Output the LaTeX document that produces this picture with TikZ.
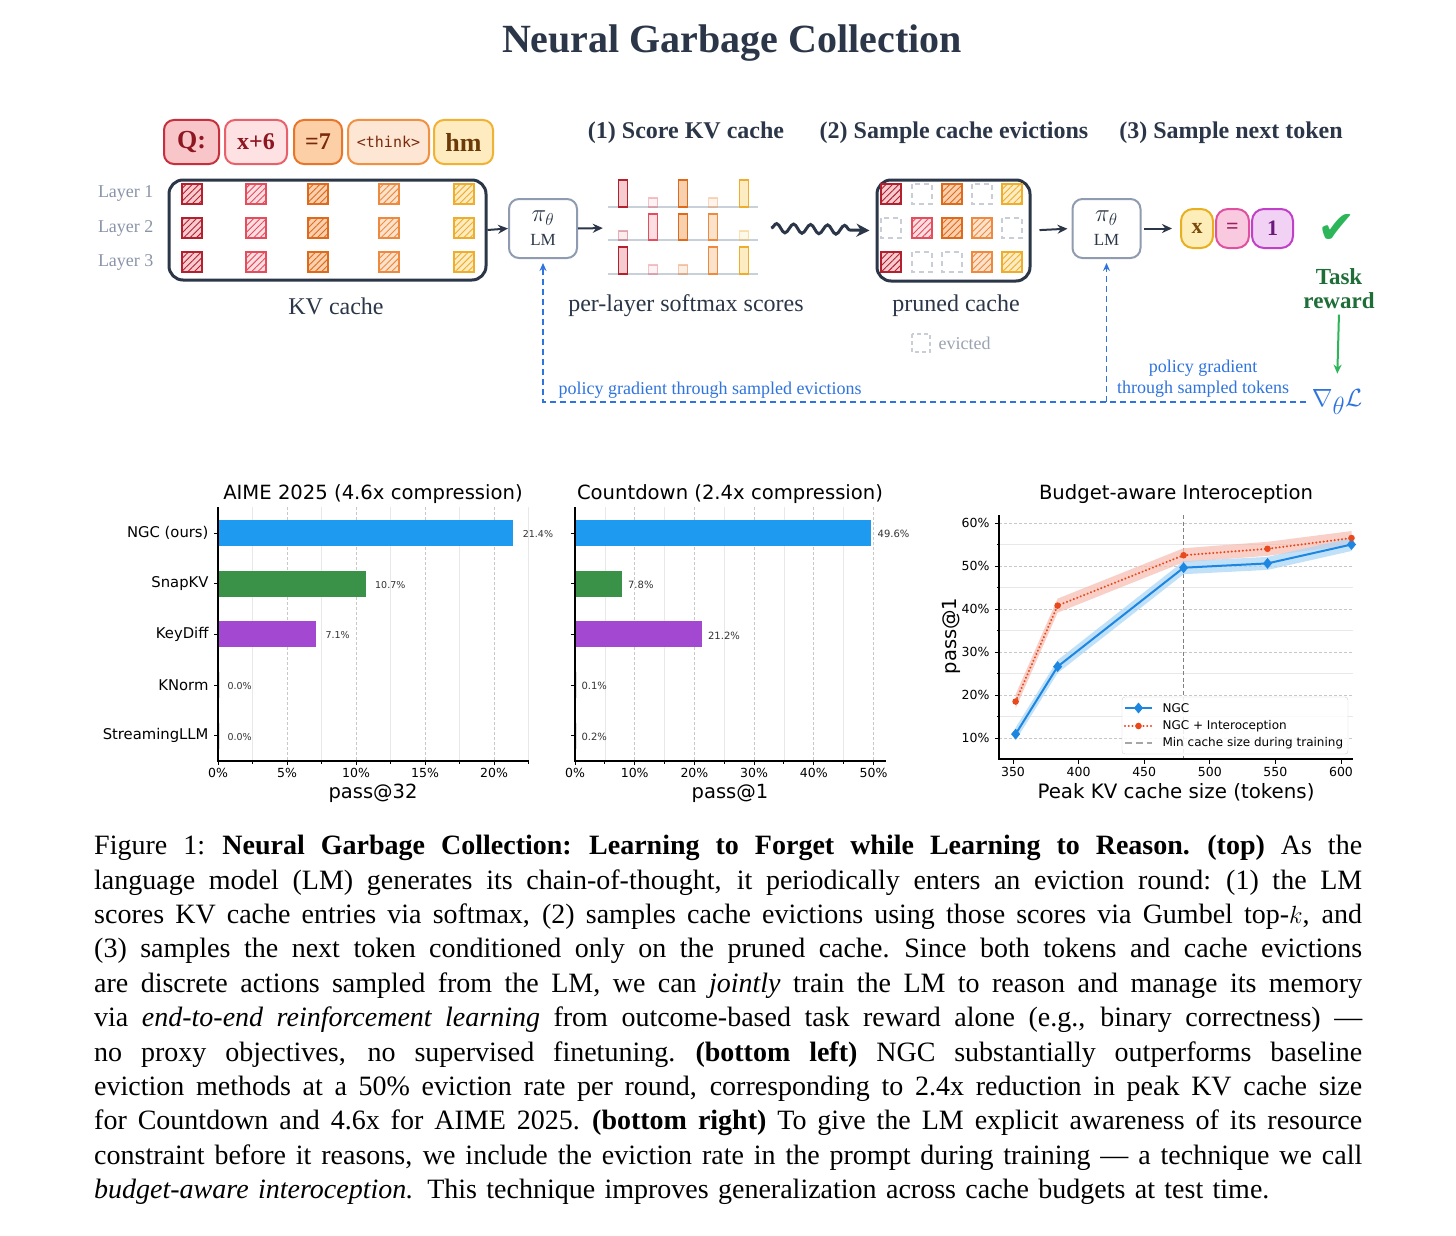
\documentclass[tikz,border=0pt]{standalone}
\usepackage{fontspec}
\setmainfont{Liberation Serif}
\newfontfamily\chartfont{DejaVu Sans}
\newfontfamily\tokmono{DejaVu Sans Mono}
\newfontfamily\symfont{DejaVu Sans}
\usetikzlibrary{arrows.meta,decorations.pathmorphing,patterns.meta,calc}
\newcommand\cfs[1]{\chartfont\fontsize{#1}{#1}\selectfont}
\newcommand\sfz[1]{\fontsize{#1}{#1}\selectfont}
\newcommand\capline[1]{\hbox to 1268pt{\spaceskip=0.25em plus 1.5em minus 0.06em\xspaceskip=0.3em plus 1.5em minus 0.06em #1}}
\definecolor{navy}{HTML}{2B3648}
\definecolor{lmgray}{HTML}{8E9BB0}
\definecolor{laygray}{HTML}{8A94A8}
\definecolor{cA}{HTML}{B3202E}\definecolor{fA}{HTML}{F6CBD0}
\definecolor{cB}{HTML}{E54C5C}\definecolor{fB}{HTML}{FCDDE1}
\definecolor{cC}{HTML}{E06A1C}\definecolor{fC}{HTML}{F9D0AE}
\definecolor{cD}{HTML}{EE8A40}\definecolor{fD}{HTML}{FDE2CB}
\definecolor{cE}{HTML}{EEAE2C}\definecolor{fE}{HTML}{FDEBC2}
\definecolor{tQb}{HTML}{C62F3B}\definecolor{tQf}{HTML}{F8C5C9}\definecolor{tQt}{HTML}{8E1620}
\definecolor{tXb}{HTML}{E8606A}\definecolor{tXf}{HTML}{FDE1E3}
\definecolor{tEb}{HTML}{E8762A}\definecolor{tEf}{HTML}{FCCFA6}\definecolor{tEt}{HTML}{7A2A0C}
\definecolor{tTb}{HTML}{F09040}\definecolor{tTf}{HTML}{FDE6D4}
\definecolor{tHb}{HTML}{F0B232}\definecolor{tHf}{HTML}{FEEBC0}\definecolor{tHt}{HTML}{6B3A08}
\definecolor{oXb}{HTML}{E8B020}\definecolor{oXf}{HTML}{FDEDB8}\definecolor{oXt}{HTML}{7A4A0A}
\definecolor{oEb}{HTML}{E050A0}\definecolor{oEf}{HTML}{F9CADF}\definecolor{oEt}{HTML}{9A2060}
\definecolor{oOb}{HTML}{C040C8}\definecolor{oOf}{HTML}{F1D2F5}\definecolor{oOt}{HTML}{6A1A7A}
\definecolor{pgblue}{HTML}{2F74DE}
\definecolor{tgreen}{HTML}{1F6E38}
\definecolor{agreen}{HTML}{2DB55A}
\definecolor{evgray}{HTML}{C9CED6}
\definecolor{evtext}{HTML}{9AA3B0}
\definecolor{basec}{HTML}{C8D0DA}
\definecolor{barblue}{HTML}{1E9BF0}
\definecolor{bargreen}{HTML}{3A9148}
\definecolor{barpurple}{HTML}{A349D1}
\definecolor{gridc}{HTML}{C8C8C8}
\definecolor{gridm}{HTML}{E8E8E8}
\definecolor{vlab}{HTML}{333333}
\definecolor{nblue}{HTML}{1C86E0}
\definecolor{nred}{HTML}{E84A1E}
\definecolor{bandb}{HTML}{A8D5F7}
\definecolor{bandr}{HTML}{F7BDB0}
\newcommand\hsq[3]{%
  \path[fill=f#3] (#1-10,#2-10) rectangle (#1+10,#2+10);
  \path[pattern={Lines[angle=45,distance=4.5pt,line width=0.9pt]}, pattern color=c#3] (#1-10,#2-10) rectangle (#1+10,#2+10);
  \draw[c#3, line width=1.6pt] (#1-10,#2-10) rectangle (#1+10,#2+10);}
\newcommand\evsq[2]{\draw[evgray, line width=1.5pt, dash pattern=on 5pt off 4pt] (#1-10,#2-10) rectangle (#1+10,#2+10);}
\newcommand\sbar[5]{\draw[draw=c#4, fill=f#4, line width=1.5pt, opacity=#5] (#1-4.5,#2) rectangle (#1+4.5,#2-#3);}
\newcommand\dmk[3]{\fill[#3] (#1,#2-5.5) -- (#1+4.5,#2) -- (#1,#2+5.5) -- (#1-4.5,#2) -- cycle;}
\begin{document}
\begin{tikzpicture}[x=1pt,y=-1pt,
  tok/.style={rounded corners=10pt, line width=2pt, inner sep=0pt, minimum height=44pt},
  otok/.style={rounded corners=12pt, line width=2pt, inner sep=0pt, minimum height=39pt, font={\bfseries\sfz{22}}},
  lmbox/.style={draw=lmgray, line width=2pt, rounded corners=10pt, fill=white, minimum width=68pt, minimum height=59pt, inner sep=0pt, align=center, text=navy, font={\fontsize{17}{24}\selectfont}},
  arr/.style={navy, line width=2pt, -{Stealth[length=10pt,width=9pt]}},
  wave/.style={navy, line width=3pt, decorate, decoration={snake, amplitude=4.5pt, segment length=17pt, post length=14pt}, -{Stealth[length=13pt,width=13pt]}},
  pgline/.style={pgblue, line width=1.6pt, dash pattern=on 6pt off 4pt},
  lbl/.style={font={\sfz{24}}, text=navy},
  hdr/.style={font={\bfseries\sfz{24}}, text=navy},
  gmaj/.style={draw=gridc, line width=0.8pt, dash pattern=on 3pt off 2pt},
  gmin/.style={draw=gridm, line width=0.7pt},
  spine/.style={black, line width=1.4pt},
  tick/.style={black, line width=1pt}]
\useasboundingbox[fill=white] (0,0) rectangle (1456,1236);

% ---------- title ----------
\node[font={\bfseries\sfz{40}}, text=navy] (title) at (732,43) {Neural Garbage Collection};

% ---------- headers ----------
\node[hdr] (h1) at (686,133) {(1) Score KV cache};
\node[hdr] (h2) at (954,133) {(2) Sample cache evictions};
\node[hdr] (h3) at (1231,133) {(3) Sample next token};

% ---------- input tokens ----------
\node[tok, draw=tQb, fill=tQf, text=tQt, minimum width=55pt, font={\bfseries\sfz{26}}] (tq) at (191.5,142) {Q:};
\node[tok, draw=tXb, fill=tXf, text=tQt, minimum width=62pt, font={\bfseries\sfz{24}}] (tx) at (256,142) {x+6};
\node[tok, draw=tEb, fill=tEf, text=tEt, minimum width=48pt, font={\bfseries\sfz{24}}] (te) at (318,142) {=7};
\node[tok, draw=tTb, fill=tTf, text=tEt, minimum width=81pt, font={\tokmono\sfz{15}}] (tthink) at (388.5,142) {<think>};
\node[tok, draw=tHb, fill=tHf, text=tHt, minimum width=59pt, font={\bfseries\sfz{26}}] (th) at (463.5,142) {hm};

% ---------- KV cache ----------
\foreach \r/\yy in {1/194,2/228,3/262}
  \node[anchor=east, font={\sfz{18}}, text=laygray] (lay\r) at (157,\yy) {Layer \r};
\node[draw=navy, line width=3pt, rounded corners=14pt, minimum width=317pt, minimum height=100pt, inner sep=0pt] (kv) at (327.5,230) {};
\foreach \cx/\cl in {192/A,256/B,318/C,389/D,464/E}
  \foreach \yy in {194,228,262} {\hsq{\cx}{\yy}{\cl}}
\node[lbl] (kvl) at (336,306) {KV cache};

% ---------- LM 1 ----------
\node[lmbox] (lm1) at (543,228.5) {{\sfz{27}$\pi_\theta$}\\LM};

% ---------- scores ----------
\node[minimum width=150pt, minimum height=100pt, inner sep=0pt] (scores) at (683,228) {};
\foreach \yy in {207,240,274} \draw[basec, line width=1.5pt] (608,\yy) -- (758,\yy);
\sbar{623}{207}{27}{A}{1}\sbar{653}{207}{9}{B}{0.35}\sbar{683}{207}{27}{C}{1}\sbar{713}{207}{9}{D}{0.35}\sbar{744}{207}{27}{E}{1}
\sbar{623}{240}{9}{A}{0.35}\sbar{653}{240}{26}{B}{1}\sbar{683}{240}{26}{C}{1}\sbar{713}{240}{26}{D}{1}\sbar{744}{240}{9}{E}{0.35}
\sbar{623}{274}{27}{A}{1}\sbar{653}{274}{9}{B}{0.35}\sbar{683}{274}{9}{C}{0.35}\sbar{713}{274}{27}{D}{1}\sbar{744}{274}{27}{E}{1}
\node[lbl] (scl) at (686,306) {per-layer softmax scores};

% ---------- pruned cache ----------
\node[draw=navy, line width=3pt, rounded corners=14pt, minimum width=153pt, minimum height=101pt, inner sep=0pt] (pruned) at (953.5,230.5) {};
\hsq{891}{194}{A}\evsq{922}{194}\hsq{952}{194}{C}\evsq{982}{194}\hsq{1012}{194}{E}
\evsq{891}{228}\hsq{922}{228}{B}\hsq{952}{228}{C}\hsq{982}{228}{D}\evsq{1012}{228}
\hsq{891}{262}{A}\evsq{922}{262}\evsq{952}{262}\hsq{982}{262}{D}\hsq{1012}{262}{E}
\node[lbl] (prl) at (956,306) {pruned cache};
\draw[evgray, line width=1.3pt, dash pattern=on 4pt off 3pt] (912,334) rectangle (930,352);
\node[anchor=west, text=evtext, font={\sfz{18}}] (evl) at (935,343) {evicted};

% ---------- LM 2 and outputs ----------
\node[lmbox] (lm2) at (1106.5,228.5) {{\sfz{27}$\pi_\theta$}\\LM};
\node[otok, draw=oXb, fill=oXf, text=oXt, minimum width=32pt] (ox) at (1197,228.5) {x};
\node[otok, draw=oEb, fill=oEf, text=oEt, minimum width=33pt] (oeq) at (1232.5,228.5) {=};
\node[otok, draw=oOb, fill=oOf, text=oOt, minimum width=41pt] (oone) at (1272.5,228.5) {1};
\node[text=agreen, font={\symfont\sfz{46}}] (chk) at (1337,229) {✔};
\node[text=tgreen, align=center, font={\bfseries\fontsize{23}{24}\selectfont}] (tr) at (1339,289) {Task\\reward};
\node[text=pgblue, font={\sfz{34}}] (nab) at (1337,402) {$\nabla_{\theta}\mathcal{L}$};

% ---------- connectors ----------
\draw[arr] (kv.east) -- (lm1.west);
\draw[arr, shorten >=5pt] (lm1.east) -- (scores.west);
\draw[wave] ([xshift=13pt]scores.east) -- ([xshift=-6pt]pruned.west);
\draw[arr, shorten <=8pt, shorten >=4pt] (pruned.east) -- (lm2.west);
\draw[arr, shorten <=2pt, shorten >=8pt] (lm2.east) -- (ox.west);
\draw[agreen, line width=2pt, -{Stealth[length=9pt,width=8pt]}, shorten <=2pt, shorten >=12pt] (tr.south) -- (nab.north);
\draw[pgline, -{Stealth[length=8pt,width=7pt]}] ([xshift=-2pt]nab.west) -| ([yshift=-4pt]lm1.south);
\draw[pgline, -{Stealth[length=8pt,width=7pt]}] (lm2.south |- nab.west) -- ([yshift=-4pt]lm2.south);
\node[anchor=west, text=pgblue, font={\sfz{18}}] (pgl1) at (555,390) {policy gradient through sampled evictions};
\node[align=center, text=pgblue, font={\fontsize{18}{21}\selectfont}] (pgl2) at (1203,379) {policy gradient\\through sampled tokens};

% ---------- chart 1 : AIME ----------
\foreach \v in {2.5,7.5,12.5,17.5,22.5} \draw[gmin] ({218+13.8*\v},507) -- ({218+13.8*\v},761);
\foreach \v in {5,10,15,20} \draw[gmaj] ({218+13.8*\v},507) -- ({218+13.8*\v},761);
\foreach \v/\yc/\col in {21.4/533/barblue,10.7/583.7/bargreen,7.1/634.4/barpurple} {
  \fill[\col] (218,\yc-13) rectangle ({218+13.8*\v},\yc+13);
  \node[anchor=west, text=vlab, font={\cfs{9.5}}] at ({218+13.8*\v+6},\yc+1) {\v\%};}
\foreach \yc in {685.1,735.8} {
  \fill[gray!25] (217,\yc-13) rectangle (219.5,\yc+13);
  \node[anchor=west, text=vlab, font={\cfs{9.5}}] at (224,\yc+1) {0.0\%};}
\draw[spine] (218,507) -- (218,761) -- (529,761);
\foreach \v in {0,5,10,15,20} {\draw[tick] ({218+13.8*\v},761) -- ++(0,4);
  \node[font={\cfs{12.5}}] at ({218+13.8*\v},773) {\v\%};}
\foreach \v in {2.5,7.5,12.5,17.5,22.5} \draw[tick] ({218+13.8*\v},761) -- ++(0,2.5);
\foreach \yc/\nm in {533/NGC (ours),583.7/SnapKV,634.4/KeyDiff,685.1/KNorm,735.8/StreamingLLM} {
  \draw[tick] (218,\yc) -- ++(-4,0);
  \node[anchor=east, font={\cfs{14.8}}] at (212,\yc) {\nm};}
\node[font={\cfs{19.6}}] (t1) at (373,494) {AIME 2025 (4.6x compression)};
\node[font={\cfs{19.5}}] (xl1) at (373,793) {pass@32};

% ---------- chart 2 : Countdown ----------
\foreach \v in {5,15,25,35,45} \draw[gmin] ({575+5.97*\v},507) -- ({575+5.97*\v},761);
\foreach \v in {10,20,30,40,50} \draw[gmaj] ({575+5.97*\v},507) -- ({575+5.97*\v},761);
\foreach \v/\yc/\col in {49.6/533/barblue,7.8/583.7/bargreen,21.2/634.4/barpurple} {
  \fill[\col] (575,\yc-13) rectangle ({575+5.97*\v},\yc+13);
  \node[anchor=west, text=vlab, font={\cfs{10}}] at ({575+5.97*\v+3},\yc+1) {\v\%};}
\foreach \v/\yc in {0.1/685.1,0.2/735.8} {
  \fill[gray!25] (574.5,\yc-13) rectangle (577,\yc+13);
  \node[anchor=west, text=vlab, font={\cfs{10}}] at (578,\yc+1) {\v\%};}
\draw[spine] (575,507) -- (575,761) -- (886,761);
\foreach \v in {0,10,20,30,40,50} {\draw[tick] ({575+5.97*\v},761) -- ++(0,4);
  \node[font={\cfs{12.5}}] at ({575+5.97*\v},773) {\v\%};}
\foreach \v in {5,15,25,35,45} \draw[tick] ({575+5.97*\v},761) -- ++(0,2.5);
\foreach \yc in {533,583.7,634.4,685.1,735.8} \draw[tick] (575,\yc) -- ++(-4,0);
\node[font={\cfs{19.6}}] (t2) at (730,494) {Countdown (2.4x compression)};
\node[font={\cfs{19.5}}] (xl2) at (730,793) {pass@1};

% ---------- chart 3 : interoception ----------
\foreach \p in {15,25,35,45,55} \draw[gmin] (999,{781-4.3*\p}) -- (1353,{781-4.3*\p});
\foreach \p in {10,20,30,40,50,60} \draw[gmaj] (999,{781-4.3*\p}) -- (1353,{781-4.3*\p});
\draw[gray, line width=1pt, dash pattern=on 4pt off 2.5pt] (1183.6,515) -- (1183.6,759);
\fill[bandr, opacity=0.7] (1015.6,694.5) -- (1057.6,598.6) -- (1183.6,548.25) -- (1267.5,541.8) -- (1351.5,531.05) -- (1351.5,545.05) -- (1267.5,555.8) -- (1183.6,562.25) -- (1057.6,612.6) -- (1015.6,708.5) -- cycle;
\fill[bandb, opacity=0.7] (1015.6,727.6) -- (1057.6,660.1) -- (1183.6,561.2) -- (1267.5,556.9) -- (1351.5,538) -- (1351.5,551) -- (1267.5,569.9) -- (1183.6,574.2) -- (1057.6,673.1) -- (1015.6,740.6) -- cycle;
\draw[nblue, line width=2pt] (1015.6,734.1) -- (1057.6,666.6) -- (1183.6,567.7) -- (1267.5,563.4) -- (1351.5,544.5);
\foreach \px/\py in {1015.6/734.1,1057.6/666.6,1183.6/567.7,1267.5/563.4,1351.5/544.5} {\dmk{\px}{\py}{nblue}}
\draw[nred, line width=2.2pt, dash pattern=on 0.1pt off 3.6pt, line cap=round] (1015.6,701.5) -- (1057.6,605.6) -- (1183.6,555.25) -- (1267.5,548.8) -- (1351.5,538.05);
\foreach \px/\py in {1015.6/701.5,1057.6/605.6,1183.6/555.25,1267.5/548.8,1351.5/538.05} \fill[nred] (\px,\py) circle[radius=3.3pt];
\draw[spine] (999,515) -- (999,759) -- (1353,759);
\foreach \p in {10,20,30,40,50,60} {\draw[tick] (999,{781-4.3*\p}) -- ++(-4.5,0);
  \node[anchor=east, font={\cfs{12.5}}] at (993,{781-4.3*\p}) {\p\%};}
\foreach \p in {15,25,35,45,55} \draw[tick] (999,{781-4.3*\p}) -- ++(-2.5,0);
\foreach \tk in {350,400,450,500,550,600} {\draw[tick] ({1013+1.312*(\tk-350)},759) -- ++(0,4.5);
  \node[font={\cfs{12.5}}] at ({1013+1.312*(\tk-350)},772) {\tk};}
\node[font={\cfs{19.6}}] (t3) at (1176,494) {Budget-aware Interoception};
\node[font={\cfs{19.8}}] (xl3) at (1176,792) {Peak KV cache size (tokens)};
\node[font={\cfs{19.5}}, rotate=90] (yl3) at (951,636) {pass@1};
\node[draw=gray!35, fill=white, fill opacity=0.85, draw opacity=1, rounded corners=3pt, minimum width=226pt, minimum height=57pt, inner sep=0pt] (leg) at (1235,725.5) {};
\draw[nblue, line width=2pt] (1125,708) -- (1152,708);
\dmk{1138.5}{708}{nblue}
\draw[nred, line width=2.2pt, dash pattern=on 0.1pt off 3.6pt, line cap=round] (1125,726) -- (1152,726);
\fill[nred] (1138.5,726) circle[radius=3.3pt];
\draw[gray!70, line width=2pt, dash pattern=on 7pt off 4pt] (1125,743) -- (1152,743);
\node[anchor=west, font={\cfs{12}}] (lg1) at (1159,708) {NGC};
\node[anchor=west, font={\cfs{12}}] (lg2) at (1159,726) {NGC + Interoception};
\node[anchor=west, font={\cfs{12}}] (lg3) at (1159,743) {Min cache size during training};

% ---------- caption ----------
\node[anchor=north west, inner sep=0pt, text width=1268pt, font={\fontsize{28}{34.4}\selectfont}] (cap) at (94,835) {%
\capline{Figure 1: \textbf{Neural Garbage Collection: Learning to Forget while Learning to Reason. (top)} As the}
\capline{language model (LM) generates its chain-of-thought, it periodically enters an eviction round: (1) the LM}
\capline{scores KV cache entries via softmax, (2) samples cache evictions using those scores via Gumbel top-$k$, and}
\capline{(3) samples the next token conditioned only on the pruned cache. Since both tokens and cache evictions}
\capline{are discrete actions sampled from the LM, we can \textit{jointly} train the LM to reason and manage its memory}
\capline{via \textit{end-to-end reinforcement learning} from outcome-based task reward alone (e.g., binary correctness) —}
\capline{no proxy objectives, no supervised finetuning. \textbf{(bottom left)} NGC substantially outperforms baseline}
\capline{eviction methods at a 50\% eviction rate per round, corresponding to 2.4x reduction in peak KV cache size}
\capline{for Countdown and 4.6x for AIME 2025. \textbf{(bottom right)} To give the LM explicit awareness of its resource}
\capline{constraint before it reasons, we include the eviction rate in the prompt during training — a technique we call}
\hbox{\textit{budget-aware interoception.} This technique improves generalization across cache budgets at test time.}};
\end{tikzpicture}
\end{document}
